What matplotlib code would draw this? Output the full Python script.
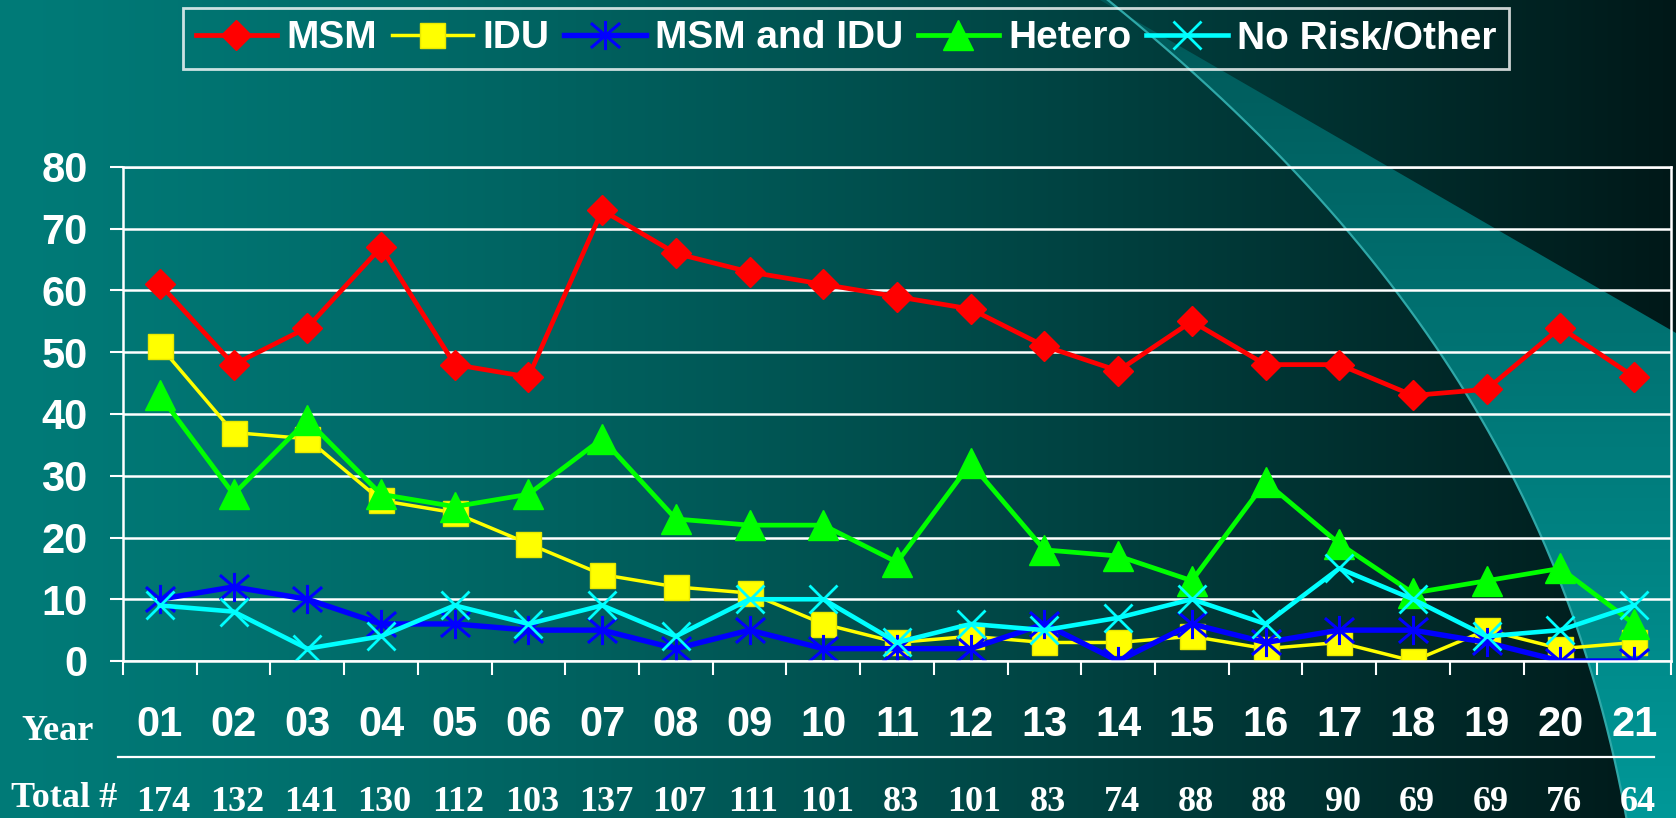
import numpy as np
import matplotlib
matplotlib.use('Agg')
import matplotlib.pyplot as plt
from matplotlib.path import Path
from matplotlib.patches import Polygon
from matplotlib.lines import Line2D
from matplotlib.transforms import blended_transform_factory

# ---------------- data ----------------
years = ['01', '02', '03', '04', '05', '06', '07', '08', '09', '10', '11',
         '12', '13', '14', '15', '16', '17', '18', '19', '20', '21']
totals = [174, 132, 141, 130, 112, 103, 137, 107, 111, 101, 83,
          101, 83, 74, 88, 88, 90, 69, 69, 76, 64]
msm = [61, 48, 54, 67, 48, 46, 73, 66, 63, 61, 59, 57, 51, 47, 55, 48, 48, 43, 44, 54, 46]
idu = [51, 37, 36, 26, 24, 19, 14, 12, 11, 6, 3, 4, 3, 3, 4, 2, 3, 0, 5, 2, 3]
msm_idu = [10, 12, 10, 6, 6, 5, 5, 2, 5, 2, 2, 2, 6, 0, 6, 3, 5, 5, 3, 0, 0]
hetero = [43, 27, 39, 27, 25, 27, 36, 23, 22, 22, 16, 32, 18, 17, 13, 29, 19, 11, 13, 15, 6]
no_risk = [9, 8, 2, 4, 9, 6, 9, 4, 10, 10, 3, 6, 5, 7, 10, 6, 15, 10, 4, 5, 9]
series_names = ['MSM', 'IDU', 'MSM and IDU', 'Hetero', 'No Risk/Other']
y_ticks = [0, 10, 20, 30, 40, 50, 60, 70, 80]

plt.rcParams['font.family'] = ['Liberation Sans', 'DejaVu Sans']
SERIF = ['Liberation Serif', 'DejaVu Serif']

W, H = 1676, 818
fig = plt.figure(figsize=(W / 100, H / 100), dpi=100)

# ---------------- background ----------------
bg = fig.add_axes([0, 0, 1, 1], zorder=-10)
bg.set_xlim(0, W)
bg.set_ylim(H, 0)
bg.axis('off')
xx = np.linspace(0, 1, W)
g = 123 - 99 * xx ** 1.25
img = np.zeros((2, W, 3))
img[..., 1] = g / 255
img[..., 2] = (g - 3 * (1 - xx)) / 255
bg.imshow(img, extent=[0, W, H, 0], aspect='auto', zorder=0)

# swoosh shape
cy = np.array([0, 167, 287, 417, 533, 667, 818])
cx = np.array([1106, 1297, 1388, 1478, 1540, 1593, 1625])
coef = np.polyfit(cy, cx, 3)
ys = np.linspace(0, H, 200)
xs = np.polyval(coef, ys)
poly = list(zip(xs, ys)) + [(W, H), (W, 333), (1100, 0)]
patch = Polygon(poly, closed=True, facecolor='none', edgecolor='none')
bg.add_patch(patch)
yy = np.linspace(0, 1, 300)[:, None]
xg = np.linspace(0, 1, 200)[None, :]
s = 88 + 64 * yy + 0 * xg
simg = np.zeros((300, 200, 3))
simg[..., 1] = s / 255
simg[..., 2] = s / 255
im = bg.imshow(simg, extent=[1000, W, H, 0], aspect='auto', zorder=1)
im.set_clip_path(patch)
bg.plot(xs, ys, color='#2fa8a8', lw=1.6, zorder=2)

# ---------------- main axes ----------------
L, R, T, B = 123, 1671, 167, 661
ax = fig.add_axes([L / W, 1 - B / H, (R - L) / W, (B - T) / H])
ax.patch.set_alpha(0)
x = np.arange(len(years))

star_path = Path([(0, -1), (0, 1), (-1, -0.85), (1, 0.85), (-1, 0.85), (1, -0.85)],
                 [Path.MOVETO, Path.LINETO, Path.MOVETO, Path.LINETO, Path.MOVETO, Path.LINETO])

ax.plot(x, msm, color='#ff0000', lw=3.4, marker='D', ms=15, mec='#ff0000', label=series_names[0])
ax.plot(x, idu, color='#ffff00', lw=2.5, marker='s', ms=18, mec='#e8e800', mew=1, label=series_names[1])
ax.plot(x, msm_idu, color='#0000ff', lw=3.9, marker=star_path, ms=21, mec='#0000ff', mew=2.2, label=series_names[2])
ax.plot(x, hetero, color='#00ff00', lw=3.4, marker='^', ms=21, mec='#00ff00', label=series_names[3])
ax.plot(x, no_risk, color='#00ffff', lw=3.3, marker='x', ms=20, mec='#00ffff', mew=2, label=series_names[4])

ax.set_xlim(-0.5, len(years) - 0.5)
ax.set_ylim(0, 80)
ax.set_yticks(y_ticks)
ax.set_yticklabels([str(v) for v in y_ticks], fontsize=30, fontweight='bold', color='white')
ax.set_xticks(np.arange(len(years) + 1) - 0.5)
ax.set_xticklabels([])
ax.tick_params(axis='y', length=9.5, width=1.5, color='white', pad=16)
ax.tick_params(axis='x', length=10, width=1.5, color='white')
ax.grid(axis='y', color='white', lw=1.8)
ax.set_axisbelow(True)
for sp in ax.spines.values():
    sp.set_color('white')
    sp.set_linewidth(1.8)

# year labels & totals
tr = blended_transform_factory(ax.transData, fig.transFigure)
for i, (yr, tot) in enumerate(zip(years, totals)):
    ax.text(i, 1 - 725 / H, yr, transform=tr, ha='center', va='center',
            fontsize=30, fontweight='bold', color='white')
    ax.text(i + 0.05, 1 - 811 / H, str(tot), transform=tr, ha='center', va='baseline',
            fontsize=26, fontweight='bold', color='white', family=SERIF)
fig.text(21 / W, 1 - 740 / H, 'Year', ha='left', va='baseline', fontsize=26,
         fontweight='bold', color='white', family=SERIF)
fig.text(11 / W, 1 - 807 / H, 'Total #', ha='left', va='baseline', fontsize=26,
         fontweight='bold', color='white', family=SERIF)
fig.add_artist(Line2D([118 / W, 1654 / W], [1 - 757 / H, 1 - 757 / H],
                      transform=fig.transFigure, color='white', lw=1.6))

# legend
leg = ax.legend(loc='center', bbox_to_anchor=(846 / W, 1 - 38.5 / H),
                bbox_transform=fig.transFigure, ncol=5, frameon=True, fancybox=False,
                prop={'size': 28, 'weight': 'bold'}, handlelength=2.1,
                handletextpad=0.23, columnspacing=0.38, borderpad=0.32,
                borderaxespad=0, numpoints=1)
fr = leg.get_frame()
fr.set_facecolor('none')
fr.set_edgecolor('white')
fr.set_linewidth(2)
for t in leg.get_texts():
    t.set_color('white')

fig.savefig('out.png', dpi=100)
